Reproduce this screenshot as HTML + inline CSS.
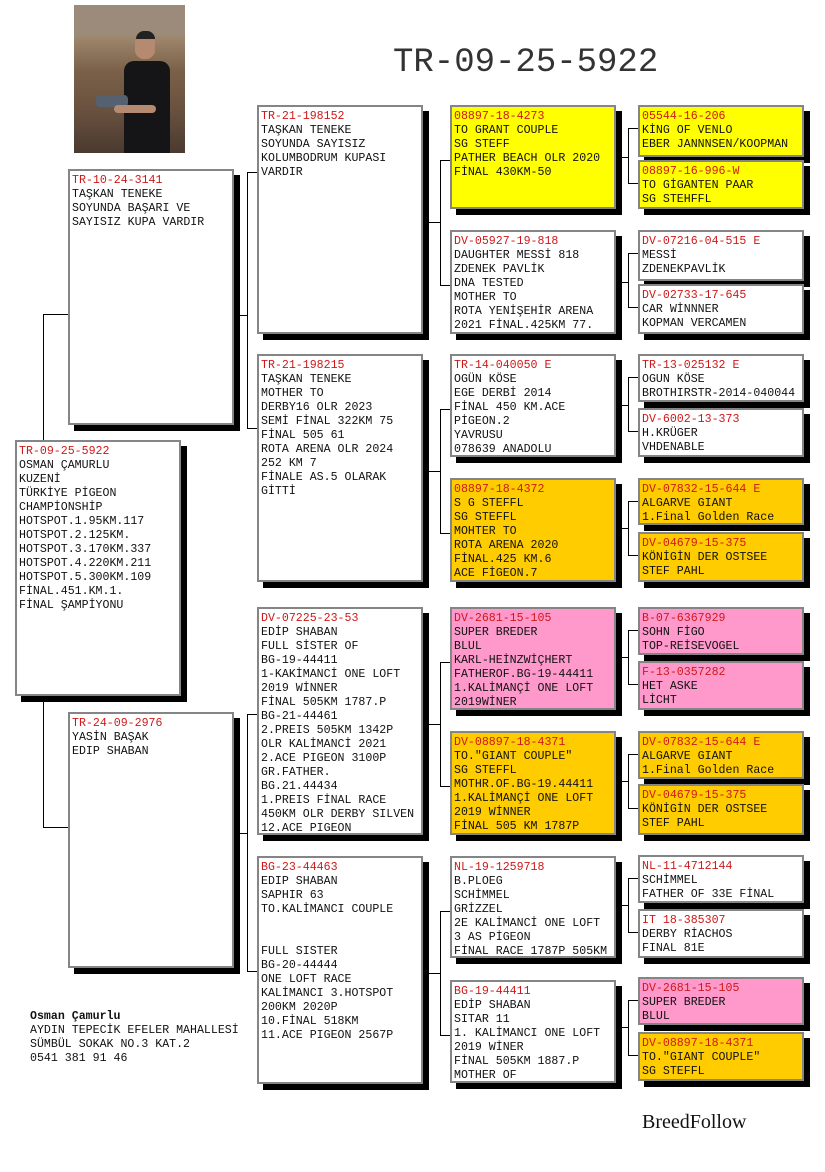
<!DOCTYPE html>
<html><head><meta charset="utf-8">
<style>
body{margin:0;background:#fff;}
#pg{position:relative;width:825px;height:1172px;overflow:hidden;background:#fff;}
.b{position:absolute;box-sizing:border-box;border:2px solid #858585;box-shadow:6px 6px 0 #000;padding:3px 0 0 2px;font-family:"Liberation Mono",monospace;font-size:11.6px;line-height:14px;color:#111;white-space:pre;background:#fff;}
.b i{font-style:normal;color:#d01818;display:block;}
.y{background:#ffff00}.o{background:#ffcc00}.p{background:#ff99cc}
.c2{left:257px;width:166px}.c3{left:450px;width:166px}.c4{left:638px;width:166px}
svg{position:absolute;left:0;top:0}
</style></head><body><div id="pg">
<svg width="825" height="1172" stroke="#000" stroke-width="1" fill="none" shape-rendering="crispEdges">
<path d="M43.5 314V827M43 314.5H68M43 827.5H68"/>
<path d="M247.5 172V428M233 315.5H247M247 172.5H257M247 428.5H257"/>
<path d="M247.5 714V971M233 833.5H247M247 714.5H257M247 971.5H257"/>
<path d="M440.5 160V285M423 222.5H440M440 160.5H450M440 285.5H450"/>
<path d="M440.5 409V533M423 471.5H440M440 409.5H450M440 533.5H450"/>
<path d="M440.5 662V786M423 724.5H440M440 662.5H450M440 786.5H450"/>
<path d="M440.5 911V1035M423 973.5H440M440 911.5H450M440 1035.5H450"/>
<path d="M628.5 128V183M616 157.5H628M628 128.5H638M628 183.5H638"/>
<path d="M628.5 253V307M616 282.5H628M628 253.5H638M628 307.5H638"/>
<path d="M628.5 377V431M616 405.5H628M628 377.5H638M628 431.5H638"/>
<path d="M628.5 501V555M616 528.5H628M628 501.5H638M628 555.5H638"/>
<path d="M628.5 630V684M616 657.5H628M628 630.5H638M628 684.5H638"/>
<path d="M628.5 754V808M616 781.5H628M628 754.5H638M628 808.5H638"/>
<path d="M628.5 878V932M616 905.5H628M628 878.5H638M628 932.5H638"/>
<path d="M628.5 1000V1055M616 1027.5H628M628 1000.5H638M628 1055.5H638"/>
</svg>

<div style="position:absolute;left:74px;top:5px;width:111px;height:148px;background:linear-gradient(180deg,#8a7866 0%,#a08a70 20%,#7a6048 45%,#6a5240 70%,#4a3a30 100%);overflow:hidden">
 <div style="position:absolute;left:0;top:0;width:111px;height:30px;background:#9c8b7a"></div>
 <div style="position:absolute;left:61px;top:28px;width:20px;height:26px;border-radius:9px;background:#b58a70"></div>
 <div style="position:absolute;left:62px;top:26px;width:19px;height:8px;border-radius:8px 8px 0 0;background:#222"></div>
 <div style="position:absolute;left:50px;top:56px;width:46px;height:92px;border-radius:10px 10px 0 0;background:#151518"></div>
 <div style="position:absolute;left:22px;top:90px;width:32px;height:12px;background:#556070;border-radius:4px"></div>
 <div style="position:absolute;left:40px;top:100px;width:42px;height:8px;background:#b58a70;border-radius:4px"></div>
</div>

<div style="position:absolute;left:393px;top:44px;font-family:'Liberation Mono',monospace;font-size:34px;line-height:38px;color:#333">TR-09-25-5922</div>

<div class="b" style="left:15px;top:440px;width:166px;height:256px"><i>TR-09-25-5922</i>OSMAN ÇAMURLU
KUZENİ
TÜRKİYE PİGEON
CHAMPİONSHİP
HOTSPOT.1.95KM.117
HOTSPOT.2.125KM.
HOTSPOT.3.170KM.337
HOTSPOT.4.220KM.211
HOTSPOT.5.300KM.109
FİNAL.451.KM.1.
FİNAL ŞAMPİYONU</div>
<div class="b" style="left:68px;top:169px;width:166px;height:256px"><i>TR-10-24-3141</i>TAŞKAN TENEKE
SOYUNDA BAŞARI VE
SAYISIZ KUPA VARDIR</div>
<div class="b" style="left:68px;top:712px;width:166px;height:256px"><i>TR-24-09-2976</i>YASİN BAŞAK
EDIP SHABAN</div>

<div class="b c2" style="top:105px;height:229px"><i>TR-21-198152</i>TAŞKAN TENEKE
SOYUNDA SAYISIZ
KOLUMBODRUM KUPASI
VARDIR</div>
<div class="b c2" style="top:354px;height:228px"><i>TR-21-198215</i>TAŞKAN TENEKE
MOTHER TO
DERBY16 OLR 2023
SEMİ FİNAL 322KM 75
FİNAL 505 61
ROTA ARENA OLR 2024
252 KM 7
FİNALE AS.5 OLARAK
GİTTİ</div>
<div class="b c2" style="top:607px;height:228px"><i>DV-07225-23-53</i>EDİP SHABAN
FULL SİSTER OF
BG-19-44411
1-KAKİMANCİ ONE LOFT
2019 WİNNER
FİNAL 505KM 1787.P
BG-21-44461
2.PREIS 505KM 1342P
OLR KALİMANCİ 2021
2.ACE PIGEON 3100P
GR.FATHER.
BG.21.44434
1.PREIS FİNAL RACE
450KM OLR DERBY SILVEN
12.ACE PIGEON</div>
<div class="b c2" style="top:856px;height:228px"><i>BG-23-44463</i>EDIP SHABAN
SAPHIR 63
TO.KALİMANCI COUPLE


FULL SISTER
BG-20-44444
ONE LOFT RACE
KALİMANCI 3.HOTSPOT
200KM 2020P
10.FİNAL 518KM
11.ACE PIGEON 2567P</div>

<div class="b c3 y" style="top:105px;height:104px"><i>08897-18-4273</i>TO GRANT COUPLE
SG STEFF
PATHER BEACH OLR 2020
FİNAL 430KM-50</div>
<div class="b c3" style="top:230px;height:104px"><i>DV-05927-19-818</i>DAUGHTER MESSİ 818
ZDENEK PAVLİK
DNA TESTED
MOTHER TO
ROTA YENİŞEHİR ARENA
2021 FİNAL.425KM 77.</div>
<div class="b c3" style="top:354px;height:103px"><i>TR-14-040050 E</i>OGÜN KÖSE
EGE DERBİ 2014
FİNAL 450 KM.ACE
PİGEON.2
YAVRUSU
078639 ANADOLU</div>
<div class="b c3 o" style="top:478px;height:104px"><i>08897-18-4372</i>S G STEFFL
SG STEFFL
MOHTER TO
ROTA ARENA 2020
FİNAL.425 KM.6
ACE FİGEON.7</div>
<div class="b c3 p" style="top:607px;height:103px"><i>DV-2681-15-105</i>SUPER BREDER
BLUL
KARL-HEİNZWİÇHERT
FATHEROF.BG-19-44411
1.KALİMANÇİ ONE LOFT
2019WİNER</div>
<div class="b c3 o" style="top:731px;height:104px"><i>DV-08897-18-4371</i>TO."GIANT COUPLE"
SG STEFFL
MOTHR.OF.BG-19.44411
1.KALİMANÇİ ONE LOFT
2019 WİNNER
FİNAL 505 KM 1787P</div>
<div class="b c3" style="top:856px;height:102px"><i>NL-19-1259718</i>B.PLOEG
SCHİMMEL
GRİZZEL
2E KALİMANCİ ONE LOFT
3 AS PİGEON
FİNAL RACE 1787P 505KM</div>
<div class="b c3" style="top:980px;height:103px"><i>BG-19-44411</i>EDİP SHABAN
SITAR 11
1. KALİMANCI ONE LOFT
2019 WİNER
FİNAL 505KM 1887.P
MOTHER OF</div>

<div class="b c4 y" style="top:105px;height:52px"><i>05544-16-206</i>KİNG OF VENLO
EBER JANNNSEN/KOOPMAN</div>
<div class="b c4 y" style="top:160px;height:49px"><i>08897-16-996-W</i>TO GİGANTEN PAAR
SG STEHFFL</div>
<div class="b c4" style="top:230px;height:51px"><i>DV-07216-04-515 E</i>MESSİ
ZDENEKPAVLİK</div>
<div class="b c4" style="top:284px;height:50px"><i>DV-02733-17-645</i>CAR WİNNNER
KOPMAN VERCAMEN</div>
<div class="b c4" style="top:354px;height:48px"><i>TR-13-025132 E</i>OGUN KÖSE
BROTHIRSTR-2014-040044</div>
<div class="b c4" style="top:408px;height:49px"><i>DV-6002-13-373</i>H.KRÜGER
VHDENABLE</div>
<div class="b c4 o" style="top:478px;height:47px"><i>DV-07832-15-644 E</i>ALGARVE GIANT
1.Final Golden Race</div>
<div class="b c4 o" style="top:532px;height:50px"><i>DV-04679-15-375</i>KÖNİGİN DER OSTSEE
STEF PAHL</div>
<div class="b c4 p" style="top:607px;height:48px"><i>B-07-6367929</i>SOHN FİGO
TOP-REİSEVOGEL</div>
<div class="b c4 p" style="top:661px;height:49px"><i>F-13-0357282</i>HET ASKE
LİCHT</div>
<div class="b c4 o" style="top:731px;height:48px"><i>DV-07832-15-644 E</i>ALGARVE GIANT
1.Final Golden Race</div>
<div class="b c4 o" style="top:784px;height:51px"><i>DV-04679-15-375</i>KÖNİGİN DER OSTSEE
STEF PAHL</div>
<div class="b c4" style="top:855px;height:48px"><i>NL-11-4712144</i>SCHİMMEL
FATHER OF 33E FİNAL</div>
<div class="b c4" style="top:909px;height:49px"><i>IT 18-385307</i>DERBY RİACHOS
FINAL 81E</div>
<div class="b c4 p" style="top:977px;height:48px"><i>DV-2681-15-105</i>SUPER BREDER
BLUL</div>
<div class="b c4 o" style="top:1032px;height:49px"><i>DV-08897-18-4371</i>TO."GIANT COUPLE"
SG STEFFL</div>

<div style="position:absolute;left:30px;top:1010px;font-family:'Liberation Mono',monospace;font-size:11.6px;line-height:14px;color:#111;white-space:pre"><b>Osman Çamurlu</b>
AYDIN TEPECİK EFELER MAHALLESİ
SÜMBÜL SOKAK NO.3 KAT.2
0541 381 91 46</div>
<div style="position:absolute;left:642px;top:1111px;font-family:'Liberation Serif',serif;font-size:20px;color:#111">BreedFollow</div>
</div></body></html>
